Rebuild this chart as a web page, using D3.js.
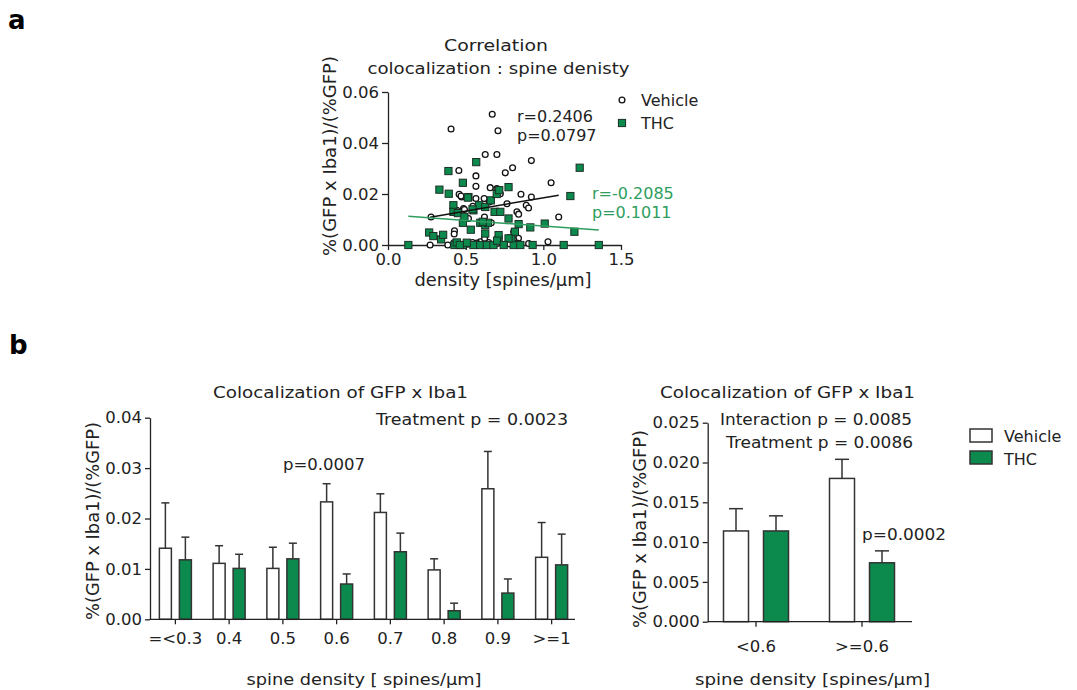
<!DOCTYPE html>
<html>
<head>
<meta charset="utf-8">
<script src="https://cdn.jsdelivr.net/npm/d3@7"></script>
<style>
  html, body { margin: 0; padding: 0; background: #fff; }
  svg { display: block; font-family: "DejaVu Sans", sans-serif; }
  .axis path, .axis line { stroke: #222; stroke-width: 1.3; }
  .axis text { font-size: 16.5px; fill: #222; font-family: "DejaVu Sans", sans-serif; }
</style>
</head>
<body>
<svg id="fig" width="1077" height="690"></svg>
<script>
// ---------- panel a: scatter of colocalization vs spine density ----------
const vehiclePoints = [
  [0.671,0.0513],[0.406,0.0455],[0.708,0.0448],[0.626,0.0355],[0.701,0.0355],[0.923,0.0331],
  [0.802,0.0303],[0.755,0.0283],[0.456,0.0292],[0.566,0.0271],[1.050,0.0244],[0.566,0.0230],
  [0.658,0.0225],[0.701,0.0221],[0.458,0.0199],[0.475,0.0188],[0.566,0.0182],[0.619,0.0182],
  [0.723,0.0201],[0.856,0.0199],[0.923,0.0188],[0.766,0.0162],[0.890,0.0156],[0.905,0.0145],
  [0.830,0.0130],[0.841,0.0121],[1.099,0.0110],[0.277,0.0110],[0.652,0.0169],[0.665,0.0087],
  [0.486,0.0143],[0.518,0.0104],[0.428,0.0056],[0.426,0.0043],[0.611,0.0087],[0.546,0.0152],
  [0.809,0.0052],[0.817,0.0032],[0.840,0.0026],[0.271,0.0000],[0.385,0.0000],[0.447,0.0000],
  [0.514,0.0003],[0.544,0.0010],[0.594,0.0013],[0.648,0.0010],[0.701,0.0006],[0.905,0.0006],
  [1.030,0.0013],[0.622,0.0026],[0.809,0.0020],[0.426,0.0010],[0.443,0.0136],[0.492,0.0139],
  [0.621,0.0110],[0.470,0.0192],[0.492,0.0003],[0.572,0.0008],[0.785,0.0004],[0.830,0.0008]
];
const thcPoints = [
  [1.234,0.0303],[0.568,0.0325],[0.389,0.0290],[0.331,0.0217],[0.391,0.0201],[0.482,0.0244],
  [0.776,0.0227],[1.174,0.0192],[0.518,0.0188],[0.421,0.0156],[0.421,0.0130],[0.450,0.0125],
  [0.550,0.0136],[0.587,0.0156],[0.626,0.0149],[0.662,0.0175],[0.686,0.0130],[0.723,0.0130],
  [0.776,0.0104],[0.841,0.0082],[1.009,0.0084],[0.916,0.0069],[1.200,0.0052],[0.482,0.0087],
  [0.594,0.0087],[0.626,0.0078],[0.265,0.0049],[0.292,0.0035],[0.342,0.0022],[0.131,0.0000],
  [0.428,0.0000],[0.482,0.0000],[0.550,0.0000],[0.594,0.0000],[0.636,0.0000],[0.679,0.0000],
  [0.809,0.0000],[0.852,0.0000],[0.931,0.0000],[1.131,0.0000],[1.357,0.0000],[0.712,0.0022],
  [0.794,0.0026],[0.817,0.0052],[0.626,0.0045],[0.533,0.0060],[0.712,0.0039],[0.443,0.0010],
  [0.507,0.0009],[0.514,0.0186],[0.544,0.0140],[0.643,0.0087],[0.700,0.0200],[0.716,0.0215],
  [0.610,0.0091],[0.492,0.0110],[0.355,0.0040],[0.776,0.0026],[0.702,0.0017],[0.745,0.0000],
  [0.462,0.0000]
];
// linear fits [slope, intercept]
const vehicleFit = [0.0104, 0.0081];
const thcFit = [-0.00436, 0.0118];
const scatterXTicks = [0, 0.5, 1.0, 1.5];
const scatterYTicks = [0, 0.02, 0.04, 0.06];

// ---------- panel b: binned bar charts (mean + SEM) ----------
const binLabels = ["=<0.3", "0.4", "0.5", "0.6", "0.7", "0.8", "0.9", ">=1"];
const binVehicleMean = [0.0141, 0.0111, 0.0101, 0.0233, 0.0212, 0.0098, 0.0259, 0.0123];
const binVehicleSem  = [0.0090, 0.0035, 0.0042, 0.0036, 0.0037, 0.0022, 0.0074, 0.0069];
const binThcMean     = [0.0118, 0.0101, 0.0120, 0.0070, 0.0134, 0.0017, 0.0052, 0.0108];
const binThcSem      = [0.0045, 0.0028, 0.0031, 0.0020, 0.0037, 0.0015, 0.0028, 0.0061];
const binYTicks = [0, 0.01, 0.02, 0.03, 0.04];

const splitLabels = ["<0.6", ">=0.6"];
const splitVehicleMean = [0.0114, 0.0180];
const splitVehicleSem  = [0.0028, 0.0024];
const splitThcMean     = [0.0114, 0.0074];
const splitThcSem      = [0.0019, 0.0015];
const splitYTicks = [0, 0.005, 0.010, 0.015, 0.020, 0.025];

const GREEN = "#0c8a4e";
const GREEN_TEXT = "#2e9e5e";
const INK = "#222";

const svg = d3.select("#fig");

// text helper; `len` stretches the string to a set width
function label(x, y, txt, opts = {}) {
  const t = svg.append("text")
    .attr("x", x).attr("y", y)
    .attr("font-size", opts.size || 16)
    .attr("fill", opts.fill || INK)
    .attr("text-anchor", opts.anchor || "start")
    .text(txt);
  if (opts.weight) t.attr("font-weight", opts.weight);
  if (opts.len) t.attr("textLength", opts.len).attr("lengthAdjust", "spacingAndGlyphs");
  if (opts.rotate) t.attr("transform", `rotate(-90,${x},${y})`);
  return t;
}

// panel letters
label(8, 29, "a", { size: 26, weight: "bold", fill: "#000" });
label(9, 354, "b", { size: 26, weight: "bold", fill: "#000" });

// ----- scatter -----
const sx = d3.scaleLinear().domain([0, 1.5]).range([388, 621]);
const sy = d3.scaleLinear().domain([0, 0.06]).range([245, 92]);

svg.append("g").attr("class", "axis")
  .attr("transform", `translate(0,${sy(0)})`)
  .call(d3.axisBottom(sx).tickValues(scatterXTicks).tickFormat(d3.format(".1f")).tickSize(5).tickSizeOuter(0));
svg.append("g").attr("class", "axis")
  .attr("transform", `translate(${sx(0)},0)`)
  .call(d3.axisLeft(sy).tickValues(scatterYTicks).tickFormat(d3.format(".2f")).tickSize(6).tickSizeOuter(0));

// regression lines spanning each group's x range
function fitLine(points, fit, color) {
  const ext = d3.extent(points, d => d[0]);
  svg.append("line")
    .attr("x1", sx(ext[0])).attr("y1", sy(fit[0] * ext[0] + fit[1]))
    .attr("x2", sx(ext[1])).attr("y2", sy(fit[0] * ext[1] + fit[1]))
    .attr("stroke", color).attr("stroke-width", 1.5);
}

svg.append("g").selectAll("circle").data(vehiclePoints).join("circle")
  .attr("cx", d => sx(d[0])).attr("cy", d => sy(d[1])).attr("r", 2.9)
  .attr("fill", "#fff").attr("stroke", "#111").attr("stroke-width", 1.3);
svg.append("g").selectAll("rect").data(thcPoints).join("rect")
  .attr("x", d => sx(d[0]) - 3.6).attr("y", d => sy(d[1]) - 3.6)
  .attr("width", 7.2).attr("height", 7.2)
  .attr("fill", GREEN).attr("stroke", "#1b2f24").attr("stroke-width", 1);
fitLine(vehiclePoints, vehicleFit, "#111");
fitLine(thcPoints, thcFit, GREEN_TEXT);

label(496, 51, "Correlation", { anchor: "middle", len: 104 });
label(498.5, 74, "colocalization : spine denisty", { anchor: "middle", len: 262 });
label(336, 156, "%(GFP x Iba1)/(%GFP)", { anchor: "middle", rotate: true, size: 17, len: 200 });
label(503, 286, "density [spines/μm]", { anchor: "middle", size: 17, len: 177 });
label(517, 122, "r=0.2406");
label(517, 141, "p=0.0797");
label(592, 199, "r=-0.2085", { fill: GREEN_TEXT });
label(592, 218, "p=0.1011", { fill: GREEN_TEXT });

// scatter legend
svg.append("circle").attr("cx", 622).attr("cy", 100).attr("r", 2.9)
  .attr("fill", "#fff").attr("stroke", "#111").attr("stroke-width", 1.3);
svg.append("rect").attr("x", 618.4).attr("y", 119.4).attr("width", 7.2).attr("height", 7.2)
  .attr("fill", GREEN).attr("stroke", "#1b2f24");
label(641, 106, "Vehicle");
label(641, 129, "THC");

// ----- grouped bar chart helper -----
function barChart(cfg) {
  const x = d3.scaleBand().domain(cfg.labels).range(cfg.xRange).padding(0);
  const y = d3.scaleLinear().domain(cfg.yDomain).range(cfg.yRange);
  const y0 = y(0);

  // bars + upward error bars
  const groups = [
    { mean: cfg.vehMean, sem: cfg.vehSem, fill: "#fff", off: -cfg.offset - cfg.barW },
    { mean: cfg.thcMean, sem: cfg.thcSem, fill: GREEN, off: cfg.offset }
  ];
  groups.forEach(g => {
    const data = cfg.labels.map((l, i) => ({ l, m: g.mean[i], s: g.sem[i] }));
    const cx = d => x(d.l) + x.bandwidth() / 2 + g.off + cfg.barW / 2;
    svg.append("g").selectAll("line").data(data).join("line")
      .attr("x1", cx).attr("x2", cx)
      .attr("y1", d => y(d.m)).attr("y2", d => y(d.m + d.s))
      .attr("stroke", "#333").attr("stroke-width", 1.5);
    svg.append("g").selectAll("line").data(data).join("line")
      .attr("x1", d => cx(d) - cfg.capW / 2).attr("x2", d => cx(d) + cfg.capW / 2)
      .attr("y1", d => y(d.m + d.s)).attr("y2", d => y(d.m + d.s))
      .attr("stroke", "#333").attr("stroke-width", 1.5);
    svg.append("g").selectAll("rect").data(data).join("rect")
      .attr("x", d => x(d.l) + x.bandwidth() / 2 + g.off)
      .attr("y", d => y(d.m))
      .attr("width", cfg.barW)
      .attr("height", d => y0 - y(d.m))
      .attr("fill", g.fill).attr("stroke", "#333").attr("stroke-width", 1.5);
  });

  svg.append("g").attr("class", "axis")
    .attr("transform", `translate(${cfg.axisX},0)`)
    .call(d3.axisLeft(y).tickValues(cfg.yTicks).tickFormat(d3.format(cfg.yFmt)).tickSize(5).tickSizeOuter(0));
  const xAxis = svg.append("g").attr("class", "axis")
    .attr("transform", `translate(0,${y0})`)
    .call(d3.axisBottom(x).tickSize(5).tickPadding(cfg.xPad));
  xAxis.select(".domain").remove();
  svg.append("line").attr("x1", cfg.axisX).attr("x2", cfg.axisEnd)
    .attr("y1", y0).attr("y2", y0).attr("stroke", INK).attr("stroke-width", 1.3);
  return { x, y };
}

// left: eight density bins
barChart({
  labels: binLabels, xRange: [148.5, 578.5], yDomain: [0, 0.04], yRange: [619.3, 417.7],
  vehMean: binVehicleMean, vehSem: binVehicleSem, thcMean: binThcMean, thcSem: binThcSem,
  barW: 12, offset: 4, capW: 8, axisX: 150, axisEnd: 575, yTicks: binYTicks, yFmt: ".2f", xPad: 8
});
label(340.5, 398, "Colocalization of GFP x Iba1", { anchor: "middle", len: 255 });
label(568, 425, "Treatment p = 0.0023", { anchor: "end", len: 192 });
label(283, 470, "p=0.0007", { len: 82 });
label(99, 521, "%(GFP x Iba1)/(%GFP)", { anchor: "middle", rotate: true, size: 17, len: 198 });
label(364, 685, "spine density [ spines/μm]", { anchor: "middle", len: 235 });

// right: two density groups
barChart({
  labels: splitLabels, xRange: [703, 915], yDomain: [0, 0.025], yRange: [621.7, 422.7],
  vehMean: splitVehicleMean, vehSem: splitVehicleSem, thcMean: splitThcMean, thcSem: splitThcSem,
  barW: 25, offset: 7.5, capW: 14, axisX: 707.7, axisEnd: 912, yTicks: splitYTicks, yFmt: ".3f", xPad: 14
});
label(787.5, 398, "Colocalization of GFP x Iba1", { anchor: "middle", len: 255 });
label(720, 425, "Interaction p = 0.0085", { len: 192 });
label(726, 448, "Treatment p = 0.0086", { len: 187 });
label(862, 540, "p=0.0002", { len: 84 });
label(646, 529, "%(GFP x Iba1)/(%GFP)", { anchor: "middle", rotate: true, size: 17, len: 198 });
label(695, 685, "spine density [spines/μm]", { len: 235 });

// bar legend
svg.append("rect").attr("x", 970).attr("y", 429).attr("width", 22).attr("height", 13)
  .attr("fill", "#fff").attr("stroke", "#333").attr("stroke-width", 1.5);
svg.append("rect").attr("x", 970).attr("y", 451).attr("width", 22).attr("height", 13)
  .attr("fill", GREEN).attr("stroke", "#333").attr("stroke-width", 1.5);
label(1004, 442, "Vehicle");
label(1004, 465, "THC");
</script>
</body>
</html>
